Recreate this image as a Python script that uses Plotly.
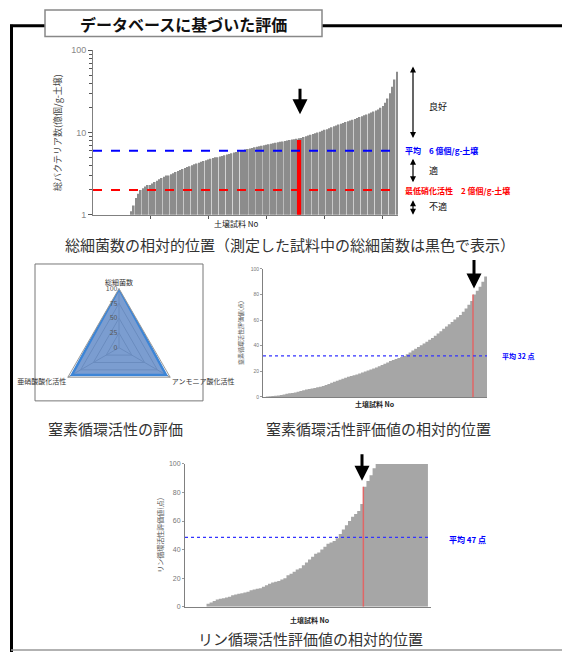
import plotly.graph_objects as go

W, H = 562, 657
def X(px): return px / W
def Y(py): return 1 - py / H

# ---------------- data ----------------
# top: total bacteria count per soil sample (億個/g-土壌), sorted
bact_values = [0]*16 + [
    1.1, 1.3, 1.6, 1.8, 2.0, 2.1, 2.2, 2.3, 2.3, 2.4, 2.5, 2.6, 2.7, 2.8,
    2.9, 3.0, 3.0, 3.1, 3.2, 3.3, 3.4, 3.5, 3.6, 3.7, 3.8, 3.9, 4.0, 4.1, 4.2, 4.3, 4.4, 4.5, 4.6, 4.7,
    4.8, 4.9, 5.0, 5.0, 5.1, 5.2, 5.3, 5.4, 5.5, 5.6, 5.7, 5.8, 5.9, 6.0, 6.1, 6.2, 6.3, 6.4, 6.5, 6.6,
    6.7, 6.8, 6.9, 7.0, 7.1, 7.2, 7.3, 7.4, 7.5, 7.6, 7.7, 7.8, 7.9, 8.0, 8.1, 8.2, 8.3, 8.4, 8.5, 8.6,
    8.8, 9.0, 9.2, 9.4, 9.6, 9.8, 10.0, 10.2, 10.5, 10.8, 11.0, 11.3, 11.6, 11.9, 12.2, 12.5, 12.8, 13.1, 13.4, 13.7,
    14.0, 14.3, 14.6, 15.0, 15.4, 15.8, 16.2, 16.6, 17.0, 17.5, 18.0, 18.5, 19.0, 20.0, 21.0,
    23, 26, 30, 36, 44, 55]
bact_sample_index = 89
bact_sample_value = 8.1
bact_mean = 6
bact_min_active = 2
bact_ticks = [25, 50, 75, 100, 125]

# radar
radar_axes = ["総細菌数", "アンモニア酸化活性", "亜硝酸酸化活性"]
radar_values = [100, 92, 92]
radar_ticks = [0, 25, 50, 75, 100]

# middle: nitrogen cycle evaluation (点), sorted
n_values = [
    0, 0.3, 0.5, 0.8, 1.0, 1.2, 1.6, 2.0, 2.4, 2.8,
    3.1, 3.5, 4.0, 4.6, 5.2, 5.8, 6.2, 6.6, 7.0, 7.5,
    8.0, 8.6, 9.4, 10.2, 11.0, 11.8, 12.6, 13.4, 14.2, 15.0,
    15.8, 16.4, 17.0, 17.6, 18.3, 19.0, 19.8, 20.6, 21.4, 22.2,
    23.0, 24.0, 25.0, 26.0, 27.0, 28.0, 28.8, 29.6, 30.4, 31.2,
    32.0, 33.4, 34.8, 36.2, 37.6, 39.0, 40.4, 41.8, 43.2, 44.6,
    46.0, 47.8, 49.6, 51.4, 53.2, 55.0, 56.8, 58.6, 60.4, 62.2,
    64.0, 66.5, 69.0, 72.0, 75.0, 80.0, 83.0, 86.0, 90.0, 94.0, 98.0]
n_sample_index = 75
n_mean = 32

# bottom: phosphorus cycle evaluation (点), sorted
p_values = [0]*7 + [
    2, 3, 4, 5, 5.5, 6, 6.5, 7, 8, 8.5, 9, 9.5, 10, 10.5, 11.5, 12, 12.5, 13, 14, 15, 16, 17,
    17.5, 18, 19, 20, 22, 23, 24.5, 26, 27, 29, 31, 33, 35, 37, 38, 40, 42, 44, 45, 46, 48,
    51, 54, 57, 60, 63, 65, 67, 72, 84, 88, 92, 97] + [100]*18
p_sample_index = 58
p_mean_line = 48.5
p_mean_label = 47

JP = "Noto Sans CJK JP"
GREY = "#a6a6a6"

fig = go.Figure()

# ---------- top chart ----------
n_b = len(bact_values)
bx = list(range(1, n_b + 1))
fig.add_trace(go.Bar(x=bx, y=[v if v > 0 else None for v in bact_values],
                     marker=dict(color="#8c8c8c", line=dict(width=0)),
                     width=0.72, xaxis="x", yaxis="y"))
fig.add_trace(go.Bar(x=[bact_sample_index], y=[bact_sample_value],
                     marker=dict(color="#ff0000", line=dict(width=0)),
                     width=1.8, xaxis="x", yaxis="y"))
fig.add_trace(go.Scatter(x=[0.5, n_b + 0.5], y=[bact_mean, bact_mean], mode="lines",
                         line=dict(color="#0000ff", width=2.2, dash="dash"),
                         xaxis="x", yaxis="y"))
fig.add_trace(go.Scatter(x=[0.5, n_b + 0.5], y=[bact_min_active, bact_min_active], mode="lines",
                         line=dict(color="#ff0000", width=2.2, dash="dash"),
                         xaxis="x", yaxis="y"))

# ---------- radar ----------
fig.add_trace(go.Scatterpolar(r=radar_values + radar_values[:1], theta=radar_axes + radar_axes[:1],
                              fill="toself", fillcolor="rgba(100,140,200,0.85)",
                              line=dict(color="#3d85d6", width=2.5), mode="lines",
                              subplot="polar"))

# ---------- middle chart ----------
nx = list(range(len(n_values)))
fig.add_trace(go.Scatter(x=nx, y=n_values, mode="lines", line=dict(width=0, shape="hv"),
                         fill="tozeroy", fillcolor=GREY, xaxis="x2", yaxis="y2"))
fig.add_trace(go.Scatter(x=[n_sample_index, n_sample_index], y=[0, n_values[n_sample_index]],
                         mode="lines", line=dict(color="#e06666", width=1.5), xaxis="x2", yaxis="y2"))
fig.add_trace(go.Scatter(x=[0, len(n_values) - 1], y=[n_mean, n_mean], mode="lines",
                         line=dict(color="#3333ff", width=1.2, dash="dot"), xaxis="x2", yaxis="y2"))

# ---------- bottom chart ----------
px_ = list(range(len(p_values)))
fig.add_trace(go.Scatter(x=px_, y=p_values, mode="lines", line=dict(width=0, shape="hv"),
                         fill="tozeroy", fillcolor=GREY, xaxis="x3", yaxis="y3"))
fig.add_trace(go.Scatter(x=[p_sample_index, p_sample_index], y=[0, p_values[p_sample_index]],
                         mode="lines", line=dict(color="#e06666", width=1.5), xaxis="x3", yaxis="y3"))
fig.add_trace(go.Scatter(x=[0, len(p_values)], y=[p_mean_line, p_mean_line], mode="lines",
                         line=dict(color="#3333ff", width=1.2, dash="dot"), xaxis="x3", yaxis="y3"))

ax_common = dict(showgrid=False, zeroline=False, linecolor="#808080", linewidth=1)

fig.update_layout(
    width=W, height=H, margin=dict(l=0, r=0, t=0, b=0),
    paper_bgcolor="white", plot_bgcolor="white", showlegend=False,
    barmode="overlay", font=dict(family=JP, color="#333"),
    xaxis=dict(domain=[X(93), X(398)], range=[0.5, n_b + 0.5], anchor="y",
               tickvals=bact_ticks, ticktext=[""]*len(bact_ticks), ticks="outside", ticklen=3,
               tickcolor="#555", **ax_common),
    yaxis=dict(domain=[Y(213), Y(46)], type="log", range=[0, 2], anchor="x",
               tickvals=[1, 10, 100], ticktext=["1", "10", "100"], ticks="outside", ticklen=4,
               tickcolor="#555", tickfont=dict(size=9, color="#888", family="Arial"),
               minor=dict(ticks="outside", ticklen=3, tickcolor="#555",
                          tickvals=[2, 3, 4, 5, 6, 7, 8, 9, 20, 30, 40, 50, 60, 70, 80, 90]),
               title=dict(text="総バクテリア数(億個/g-土壌)", font=dict(size=9, color="#444"), standoff=8),
               **ax_common),
    xaxis2=dict(domain=[X(263), X(487)], range=[0, len(n_values) - 1], anchor="y2",
                showticklabels=False, ticks="", **ax_common),
    yaxis2=dict(domain=[Y(398), Y(268)], range=[0, 100], anchor="x2", dtick=20,
                ticks="outside", ticklen=2, tickcolor="#999",
                tickfont=dict(size=5, color="#777", family="Arial"),
                title=dict(text="窒素循環活性評価値(点)", font=dict(size=6, color="#555"), standoff=6),
                **ax_common),
    xaxis3=dict(domain=[X(185), X(431)], range=[0, len(p_values)], anchor="y3",
                showticklabels=False, ticks="", **ax_common),
    yaxis3=dict(domain=[Y(611), Y(466)], range=[0, 100], anchor="x3", dtick=20,
                ticks="outside", ticklen=2, tickcolor="#999",
                tickfont=dict(size=7, color="#777", family="Arial"),
                title=dict(text="リン循環活性評価値(点)", font=dict(size=7, color="#555"), standoff=4),
                **ax_common),
    polar=dict(domain=dict(x=[X(59), X(179)], y=[Y(408), Y(288)]),
               gridshape="linear", bgcolor="white",
               angularaxis=dict(rotation=90, direction="clockwise", linecolor="#999", gridcolor="#888",
                                tickfont=dict(size=7, color="#333"), ticks=""),
               radialaxis=dict(range=[0, 100], tickvals=radar_ticks, angle=90, tickangle=90,
                               side="counterclockwise",
                               gridcolor="#888", linecolor="#888", showline=False,
                               tickfont=dict(size=7, color="#555"), ticks="")),
)

shapes = [
    dict(type="line", xref="paper", yref="paper", x0=X(11.5), x1=X(11.5), y0=Y(20), y1=Y(657),
         line=dict(color="black", width=3)),
    dict(type="line", xref="paper", yref="paper", x0=X(10), x1=X(45), y0=Y(21), y1=Y(21),
         line=dict(color="black", width=3)),
    dict(type="line", xref="paper", yref="paper", x0=X(322), x1=X(562), y0=Y(21), y1=Y(21),
         line=dict(color="black", width=3)),
    dict(type="rect", xref="paper", yref="paper", x0=X(45), x1=X(322), y0=Y(32), y1=Y(5),
         line=dict(color="#888", width=1.5), fillcolor="white"),
    dict(type="line", xref="paper", yref="paper", x0=X(11), x1=X(562), y0=Y(655), y1=Y(655),
         line=dict(color="#999", width=1.5)),
    dict(type="rect", xref="paper", yref="paper", x0=X(35), x1=X(203), y0=Y(402), y1=Y(263),
         line=dict(color="#777", width=1), layer="below"),
]

def txt(x, y, s, size=8, color="#333", anchor="center", bold=False):
    return dict(x=X(x), y=Y(y), xref="paper", yref="paper", text=f"<b>{s}</b>" if bold else s,
                showarrow=False, xanchor=anchor, yanchor="middle",
                font=dict(size=size, color=color, family=JP))

def darrow(x, y0, y1):
    return dict(x=X(x), y=Y(y1), xref="paper", yref="paper", ax=0, ay=-(y1 - y0),
                axref="pixel", ayref="pixel", showarrow=True, arrowhead=2, arrowside="end+start",
                arrowsize=1, arrowwidth=1.2, arrowcolor="black", text="")

def downarrow(x, y0, y1):
    return dict(x=X(x), y=Y(y1), xref="paper", yref="paper", ax=0, ay=-(y1 - y0),
                axref="pixel", ayref="pixel", showarrow=True, arrowhead=2,
                arrowsize=1, arrowwidth=3, arrowcolor="black", text="")

annotations = [
    txt(183, 19, "データベースに基づいた評価", size=16, color="#111", bold=True),
    txt(237, 222, "土壌試料 No", size=8, color="#222"),
    txt(403, 148, "平均　6 億個/g-土壌", size=8, color="#0000ff", anchor="left", bold=True),
    txt(403, 188, "最低硝化活性　2 億個/g-土壌", size=8, color="#ff0000", anchor="left", bold=True),
    txt(427, 103, "良好", size=9, color="#111", anchor="left"),
    txt(427, 168, "適", size=9, color="#111", anchor="left"),
    txt(427, 205, "不適", size=9, color="#111", anchor="left"),
    darrow(413, 62, 135), darrow(413, 155, 180), darrow(413, 197, 213),
    downarrow(300, 84, 111),
    txt(290, 243, "総細菌数の相対的位置（測定した試料中の総細菌数は黒色で表示）", size=15, color="#333"),
    txt(375, 405, "土壌試料 No", size=7, color="#222", bold=True),
    txt(500, 356, "平均 32 点", size=7, color="#0000ff", anchor="left", bold=True),
    downarrow(474, 258, 288),
    txt(115, 430, "窒素循環活性の評価", size=15, color="#333"),
    txt(378, 430, "窒素循環活性評価値の相対的位置", size=15, color="#333"),
    txt(447, 543, "平均 47 点", size=8, color="#0000ff", anchor="left", bold=True),
    downarrow(362, 455, 483),
    txt(310, 625, "土壌試料 No", size=7, color="#222", bold=True),
    txt(310, 643, "リン循環活性評価値の相対的位置", size=15, color="#333"),
]

fig.update_layout(shapes=shapes, annotations=annotations)
fig.write_html("out.html", config={"displayModeBar": False},
               post_script="document.body.style.margin='0';document.body.style.overflow='hidden';")
